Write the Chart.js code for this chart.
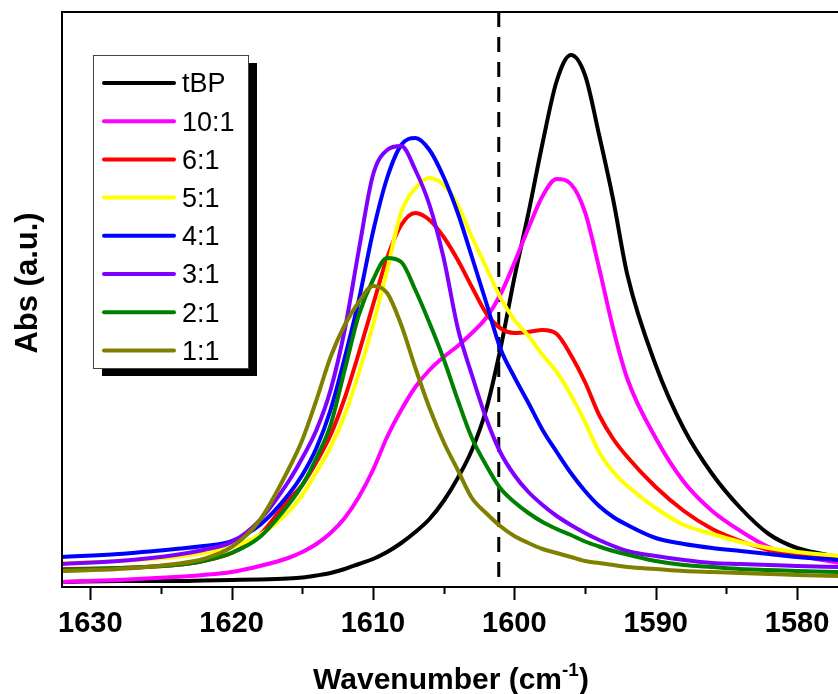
<!DOCTYPE html>
<html>
<head>
<meta charset="utf-8">
<script src="https://cdn.jsdelivr.net/npm/chart.js@4"></script>
<style>
  body { margin: 0; background: #fff; }
  canvas { display: block; }
</style>
</head>
<body>
<canvas id="irChart" width="838" height="694"></canvas>
<script>
// wavenumber samples (cm-1), shared by all series
const wavenumbers = [1632,1628,1624,1622,1620,1618,1616,1615,1614,1613,1612,1611,1610,1609,1608,1607,1606,1605,1604,1603,1602,1601,1600,1599,1598,1597,1596,1595,1594,1593,1592,1590,1588,1586,1584,1582,1580,1577];

const seriesLabels = ["tBP", "10:1", "6:1", "5:1", "4:1", "3:1", "2:1", "1:1"];
const seriesColors = ["#000000", "#ff00ff", "#ff0000", "#ffff00", "#0000ff", "#8000ff", "#008000", "#808000"];

const absTBP = [0.05,0.06,0.06,0.065,0.07,0.075,0.085,0.095,0.115,0.14,0.18,0.23,0.28,0.35,0.44,0.55,0.68,0.86,1.09,1.37,1.77,2.37,3.09,3.74,4.44,5.06,5.32,5.12,4.52,3.87,3.12,2.22,1.58,1.13,0.79,0.53,0.39,0.30];
const abs10 = [0.05,0.07,0.10,0.12,0.15,0.21,0.29,0.35,0.43,0.54,0.69,0.90,1.17,1.50,1.77,2.00,2.17,2.30,2.41,2.54,2.69,2.92,3.24,3.59,3.91,4.08,4.03,3.75,3.19,2.58,2.08,1.49,1.05,0.76,0.56,0.40,0.32,0.24];
const abs6 = [0.18,0.19,0.22,0.26,0.34,0.52,0.87,1.02,1.25,1.52,1.89,2.34,2.82,3.29,3.62,3.74,3.67,3.50,3.27,3.00,2.74,2.59,2.54,2.55,2.57,2.53,2.32,2.05,1.72,1.48,1.30,1.00,0.76,0.58,0.46,0.37,0.32,0.27];
const abs5 = [0.24,0.26,0.30,0.34,0.40,0.52,0.75,0.92,1.15,1.40,1.72,2.14,2.62,3.17,3.75,3.99,4.09,4.02,3.82,3.50,3.20,2.90,2.67,2.51,2.32,2.15,1.92,1.65,1.35,1.15,1.01,0.79,0.62,0.53,0.45,0.39,0.35,0.31];
const abs4 = [0.30,0.33,0.38,0.41,0.46,0.62,0.92,1.12,1.39,1.77,2.29,2.87,3.55,4.09,4.42,4.49,4.37,4.10,3.74,3.30,2.85,2.39,2.10,1.84,1.57,1.35,1.14,0.96,0.81,0.70,0.62,0.49,0.43,0.39,0.36,0.33,0.30,0.27];
const abs3 = [0.23,0.26,0.32,0.37,0.45,0.67,1.05,1.29,1.57,1.97,2.57,3.37,4.12,4.37,4.41,4.17,3.82,3.29,2.59,2.12,1.69,1.35,1.12,0.95,0.82,0.71,0.62,0.54,0.47,0.41,0.36,0.31,0.27,0.24,0.23,0.22,0.21,0.20];
const abs2 = [0.17,0.19,0.22,0.26,0.34,0.50,0.82,1.02,1.29,1.62,2.17,2.72,3.07,3.29,3.25,2.97,2.64,2.28,1.87,1.49,1.22,0.99,0.85,0.74,0.65,0.58,0.52,0.455,0.405,0.36,0.325,0.26,0.22,0.20,0.18,0.17,0.16,0.15];
const abs1 = [0.16,0.18,0.23,0.28,0.40,0.67,1.17,1.47,1.87,2.30,2.62,2.85,3.01,2.94,2.62,2.19,1.79,1.45,1.17,0.89,0.74,0.61,0.51,0.44,0.38,0.34,0.30,0.26,0.24,0.22,0.20,0.18,0.16,0.15,0.14,0.13,0.12,0.11];

const seriesValues = [absTBP, abs10, abs6, abs5, abs4, abs3, abs2, abs1];

const majorTicks = [1630, 1620, 1610, 1600, 1590, 1580];
const minorTicks = [1625, 1615, 1605, 1595, 1585];
const markerWavenumber = 1601.1;   // dashed reference line

const FONT = "'Liberation Sans', Arial, sans-serif";

const datasets = seriesLabels.map((label, i) => ({
  label,
  data: wavenumbers.map((w, j) => ({ x: w, y: seriesValues[i][j] })),
  borderColor: seriesColors[i],
  borderWidth: 4,
  pointRadius: 0,
  cubicInterpolationMode: "monotone",
  fill: false,
  order: seriesLabels.length - 1 - i   // last series drawn on top
}));

// frame, ticks, dashed line, titles and the boxed legend
const decorations = {
  id: "decorations",
  beforeDatasetsDraw(chart) {
    const { ctx, chartArea: a, scales: { x } } = chart;
    const px = x.getPixelForValue(markerWavenumber);
    ctx.save();
    ctx.strokeStyle = "#000";
    ctx.lineWidth = 3;
    ctx.setLineDash([15, 10]);
    ctx.beginPath();
    ctx.moveTo(px, a.top);
    ctx.lineTo(px, a.bottom);
    ctx.stroke();
    ctx.restore();
  },
  afterDraw(chart) {
    const { ctx, chartArea: a, scales: { x } } = chart;
    ctx.save();

    // frame
    ctx.strokeStyle = "#000";
    ctx.lineWidth = 2;
    ctx.beginPath();
    ctx.moveTo(chart.width + 2, a.top);
    ctx.lineTo(a.left, a.top);
    ctx.lineTo(a.left, a.bottom);
    ctx.lineTo(chart.width + 2, a.bottom);
    ctx.stroke();

    // ticks (outward)
    ctx.beginPath();
    majorTicks.forEach(v => {
      const p = Math.round(x.getPixelForValue(v)) + 0.5;
      ctx.moveTo(p, a.bottom); ctx.lineTo(p, a.bottom + 13);
    });
    minorTicks.forEach(v => {
      const p = Math.round(x.getPixelForValue(v)) + 0.5;
      ctx.moveTo(p, a.bottom); ctx.lineTo(p, a.bottom + 7);
    });
    ctx.stroke();

    // x title with superscript
    ctx.fillStyle = "#000";
    ctx.textBaseline = "alphabetic";
    ctx.textAlign = "left";
    const main = "Wavenumber (cm";
    ctx.font = "bold 19px " + FONT;
    const supW = ctx.measureText("-1").width;
    ctx.font = "bold 30px " + FONT;
    const mainW = ctx.measureText(main).width;
    const closeW = ctx.measureText(")").width;
    const tx = 451 - (mainW + supW + closeW) / 2;
    const ty = 689;
    ctx.fillText(main, tx, ty);
    ctx.font = "bold 19px " + FONT;
    ctx.fillText("-1", tx + mainW, ty - 13);
    ctx.font = "bold 30px " + FONT;
    ctx.fillText(")", tx + mainW + supW, ty);

    // y title
    ctx.save();
    ctx.translate(37, 283);
    ctx.rotate(-Math.PI / 2);
    ctx.textAlign = "center";
    ctx.font = "bold 31px " + FONT;
    ctx.fillText("Abs (a.u.)", 0, 0);
    ctx.restore();

    // legend box with shadow
    const bx = 93, by = 55, bw = 155, bh = 313;
    ctx.fillStyle = "#000";
    ctx.fillRect(bx + 9, by + 8, bw, bh);
    ctx.fillStyle = "#fff";
    ctx.fillRect(bx, by, bw, bh);
    ctx.strokeStyle = "#444";
    ctx.lineWidth = 1;
    ctx.strokeRect(bx + 0.5, by + 0.5, bw, bh);

    ctx.font = "27px " + FONT;
    ctx.textBaseline = "middle";
    ctx.textAlign = "left";
    ctx.lineCap = "round";
    chart.data.datasets.forEach((ds, i) => {
      const ly = by + 28 + i * 38.2;
      ctx.strokeStyle = ds.borderColor;
      ctx.lineWidth = 4;
      ctx.beginPath();
      ctx.moveTo(104, ly);
      ctx.lineTo(174, ly);
      ctx.stroke();
      ctx.fillStyle = "#000";
      ctx.fillText(ds.label, 182, ly + 2);
    });
    ctx.restore();
  }
};

new Chart(document.getElementById("irChart"), {
  type: "line",
  data: { datasets },
  options: {
    responsive: false,
    devicePixelRatio: 1,
    animation: false,
    layout: { padding: { left: 62, top: 12, right: 0, bottom: 0 } },
    plugins: { legend: { display: false }, tooltip: { enabled: false } },
    scales: {
      x: {
        type: "linear",
        reverse: true,
        min: 1577.1,
        max: 1632,
        afterBuildTicks: s => { s.ticks = majorTicks.map(v => ({ value: v })); },
        afterFit: s => { s.height = 107; s.paddingLeft = 0; s.paddingRight = 0; },
        grid: { display: false, drawTicks: false },
        border: { display: false },
        ticks: {
          autoSkip: false,
          maxRotation: 0,
          padding: 20,
          color: "#000",
          callback: v => String(v),
          font: { family: FONT, size: 29, weight: "bold" }
        }
      },
      y: {
        display: false,
        min: 0,
        max: 5.75
      }
    }
  },
  plugins: [decorations]
});
</script>
</body>
</html>
